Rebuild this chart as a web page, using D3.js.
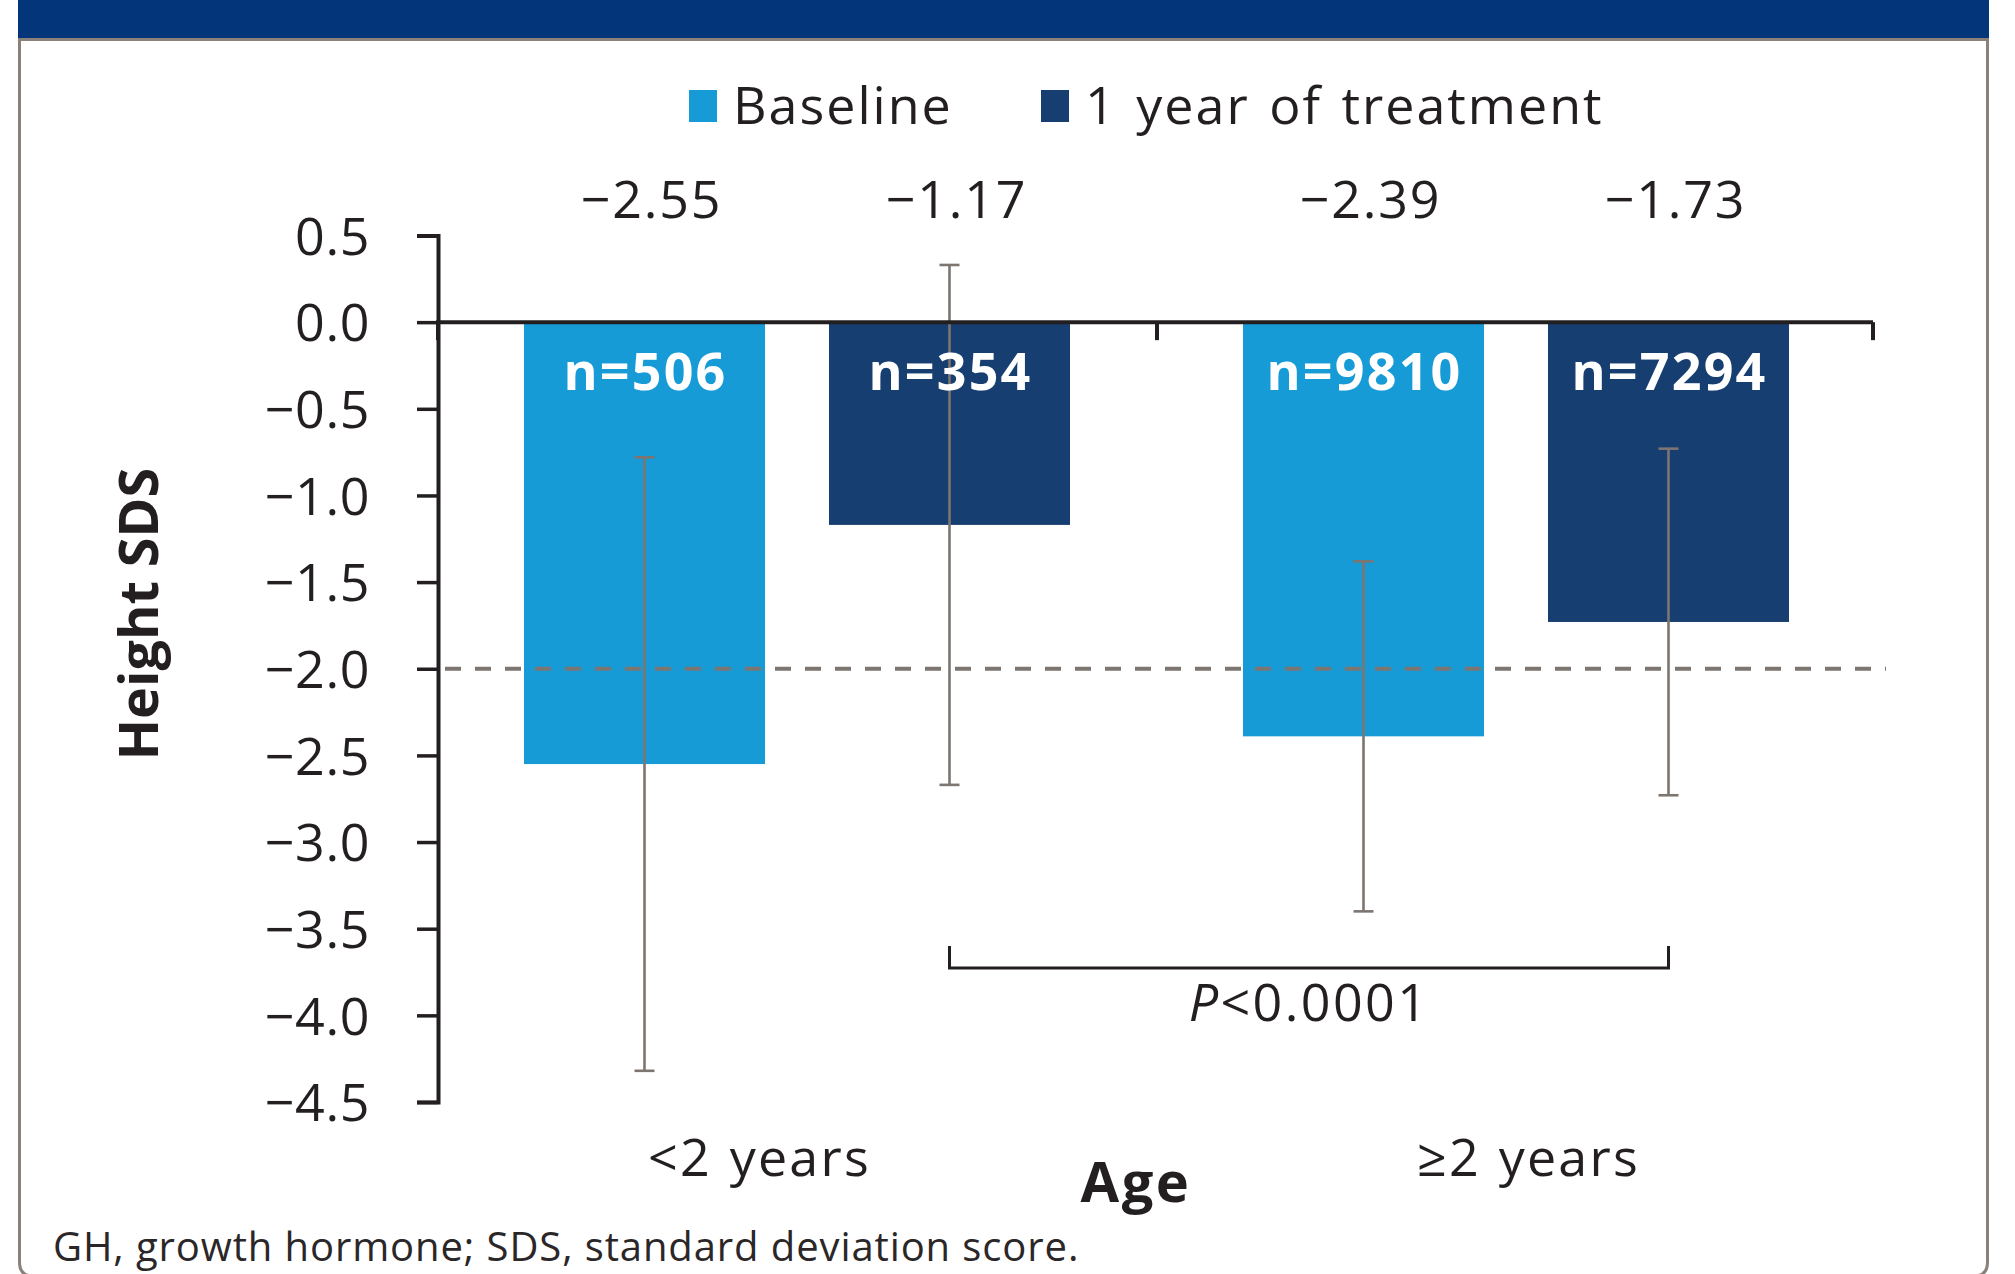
<!DOCTYPE html>
<html>
<head>
<meta charset="utf-8">
<script src="https://cdn.jsdelivr.net/npm/d3@7"></script>
<style>
  html, body { margin: 0; padding: 0; background: #fff; }
  svg { display: block; font-family: "Open Sans", "Noto Sans", sans-serif; }
</style>
</head>
<body>
<svg id="chart" width="2015" height="1274"></svg>
<script>
// Height SDS at baseline and after 1 year of GH treatment, by age group
const ageGroups = ["<2 years", "\u22652 years"];
const seriesNames = ["Baseline", "1 year of treatment"];
const baselineMean = [-2.55, -2.39];
const treatedMean = [-1.17, -1.73];
const baselineSD = [1.77, 1.01];
const treatedSD = [1.50, 1.00];
const baselineN = [506, 9810];
const treatedN = [354, 7294];
const yTicks = [0.5, 0.0, -0.5, -1.0, -1.5, -2.0, -2.5, -3.0, -3.5, -4.0, -4.5];
const referenceLine = -2.0;
const pValueText = "<0.0001";

const colors = { "Baseline": "#169bd7", "1 year of treatment": "#173e70" };
const ink = "#231f20";
const grey = "#7d7570";

const rows = [];
ageGroups.forEach((g, i) => {
  rows.push({ group: g, series: seriesNames[0], mean: baselineMean[i], sd: baselineSD[i], n: baselineN[i] });
  rows.push({ group: g, series: seriesNames[1], mean: treatedMean[i], sd: treatedSD[i], n: treatedN[i] });
});

const svg = d3.select("#chart");
svg.append("rect").attr("width", 2015).attr("height", 1274).attr("fill", "#fff");

// Panel frame with coloured header band
svg.append("rect").attr("x", 18).attr("y", 0).attr("width", 1971).attr("height", 38).attr("fill", "#03357a");
svg.append("path")
  .attr("d", "M19.5,39.5 V1262 Q19.5,1276 33,1276 H1974 Q1987.5,1276 1987.5,1262 V39.5 Z")
  .attr("fill", "none").attr("stroke", "#8b817a").attr("stroke-width", 3);
svg.append("line").attr("x1", 18).attr("x2", 1989).attr("y1", 39.5).attr("y2", 39.5)
  .attr("stroke", "#8b817a").attr("stroke-width", 3);

// Scales
const y = d3.scaleLinear().domain([-4.5, 0.5]).range([1102, 235.5]);
const x0 = d3.scaleBand().domain(ageGroups).range([438, 1876]);
const x1 = d3.scaleBand().domain(seriesNames).range([86, 632]).paddingInner(0.2098);
const barX = d => x0(d.group) + x1(d.series);
const barCx = d => barX(d) + x1.bandwidth() / 2;

// Bars
svg.append("g").selectAll("rect").data(rows).join("rect")
  .attr("x", barX)
  .attr("y", d => y(Math.max(0, d.mean)))
  .attr("width", x1.bandwidth())
  .attr("height", d => Math.abs(y(d.mean) - y(0)))
  .attr("fill", d => colors[d.series]);

// Reference line at -2 SDS
svg.append("line")
  .attr("x1", 445).attr("x2", 1886)
  .attr("y1", y(referenceLine)).attr("y2", y(referenceLine))
  .attr("stroke", grey).attr("stroke-width", 4).attr("stroke-dasharray", "16 14");

// Error bars (mean ± SD)
const eb = svg.append("g").attr("stroke", grey).attr("stroke-width", 2.6).attr("fill", "none");
eb.selectAll("line.v").data(rows).join("line").attr("class", "v")
  .attr("x1", barCx).attr("x2", barCx)
  .attr("y1", d => y(d.mean + d.sd)).attr("y2", d => y(d.mean - d.sd));
eb.selectAll("line.t").data(rows).join("line").attr("class", "t")
  .attr("x1", d => barCx(d) - 10).attr("x2", d => barCx(d) + 10)
  .attr("y1", d => y(d.mean + d.sd)).attr("y2", d => y(d.mean + d.sd));
eb.selectAll("line.b").data(rows).join("line").attr("class", "b")
  .attr("x1", d => barCx(d) - 10).attr("x2", d => barCx(d) + 10)
  .attr("y1", d => y(d.mean - d.sd)).attr("y2", d => y(d.mean - d.sd));

// Y axis
const yAxis = svg.append("g").attr("transform", "translate(438,0)")
  .call(d3.axisLeft(y).tickValues(yTicks).tickSize(21).tickSizeOuter(21).tickPadding(47)
    .tickFormat(d3.format(".1f")));
yAxis.select(".domain").attr("stroke", ink).attr("stroke-width", 4);
yAxis.selectAll(".tick line").attr("stroke", ink).attr("stroke-width", 3.5);
yAxis.selectAll(".tick text").attr("fill", ink).attr("font-size", 52).attr("dy", "0.36em")
  .attr("letter-spacing", 0.6).attr("font-family", "'Open Sans', sans-serif");

// Zero line with category ticks
svg.append("line").attr("x1", 436).attr("x2", 1873).attr("y1", y(0)).attr("y2", y(0))
  .attr("stroke", ink).attr("stroke-width", 4);
const catEdges = ageGroups.map(g => x0(g)).concat([x0(ageGroups[1]) + x0.bandwidth() - 3]);
svg.append("g").selectAll("line").data(catEdges).join("line")
  .attr("x1", d => d).attr("x2", d => d)
  .attr("y1", y(0)).attr("y2", y(0) + 18)
  .attr("stroke", ink).attr("stroke-width", 4);

// n labels inside bars
svg.append("g").selectAll("text").data(rows).join("text")
  .attr("x", d => barCx(d) + 1).attr("y", 390)
  .attr("text-anchor", "middle").attr("font-size", 52).attr("font-weight", 700)
  .attr("letter-spacing", 2.2).attr("fill", "#fff").text(d => "n=" + d.n);

// Mean value labels above the plot
svg.append("g").selectAll("text").data(rows).join("text")
  .attr("x", d => barCx(d) + 7).attr("y", 218)
  .attr("text-anchor", "middle").attr("font-size", 52).attr("letter-spacing", 1.8).attr("fill", ink)
  .text(d => d3.format(".2f")(d.mean));

// Legend
const legendX = [689, 1041];
const legend = svg.append("g").selectAll("g").data(seriesNames).join("g")
  .attr("transform", (d, i) => `translate(${legendX[i]},0)`);
legend.append("rect").attr("x", 0).attr("y", 90).attr("width", 28).attr("height", 32)
  .attr("fill", d => colors[d]);
legend.append("text").attr("x", 44).attr("y", 124).attr("font-size", 52)
  .attr("letter-spacing", 2).attr("word-spacing", 4).attr("fill", ink)
  .text(d => d);

// Category labels
const catLabelDx = [-38, 12];
svg.append("g").selectAll("text").data(ageGroups).join("text")
  .attr("x", (d, i) => x0(d) + x0.bandwidth() / 2 + catLabelDx[i]).attr("y", 1176)
  .attr("text-anchor", "middle").attr("font-size", 52).attr("letter-spacing", 2.2)
  .attr("word-spacing", 2).attr("fill", ink)
  .text(d => d);

// Axis titles
svg.append("text").attr("transform", "translate(158,614) rotate(-90)")
  .attr("text-anchor", "middle").attr("font-size", 54).attr("font-weight", 700).attr("fill", ink)
  .text("Height SDS");
svg.append("text").attr("x", 1136).attr("y", 1202)
  .attr("text-anchor", "middle").attr("font-size", 56).attr("font-weight", 700)
  .attr("letter-spacing", 2.5).attr("fill", ink)
  .text("Age");

// Significance bracket between the two treated groups
const t0 = rows.find(r => r.group === ageGroups[0] && r.series === seriesNames[1]);
const t1 = rows.find(r => r.group === ageGroups[1] && r.series === seriesNames[1]);
svg.append("path")
  .attr("d", `M${barCx(t0)},946 V968 H${barCx(t1)} V946`)
  .attr("fill", "none").attr("stroke", ink).attr("stroke-width", 3);
const pText = svg.append("text").attr("x", (barCx(t0) + barCx(t1)) / 2).attr("y", 1021)
  .attr("text-anchor", "middle").attr("font-size", 52).attr("letter-spacing", 2.4).attr("fill", ink);
pText.append("tspan").attr("font-style", "italic").text("P");
pText.append("tspan").text(pValueText);

// Footnote
svg.append("text").attr("x", 53).attr("y", 1261).attr("font-size", 40)
  .attr("letter-spacing", 0.9).attr("fill", "#2b2728")
  .text("GH, growth hormone; SDS, standard deviation score.");
</script>
</body>
</html>
